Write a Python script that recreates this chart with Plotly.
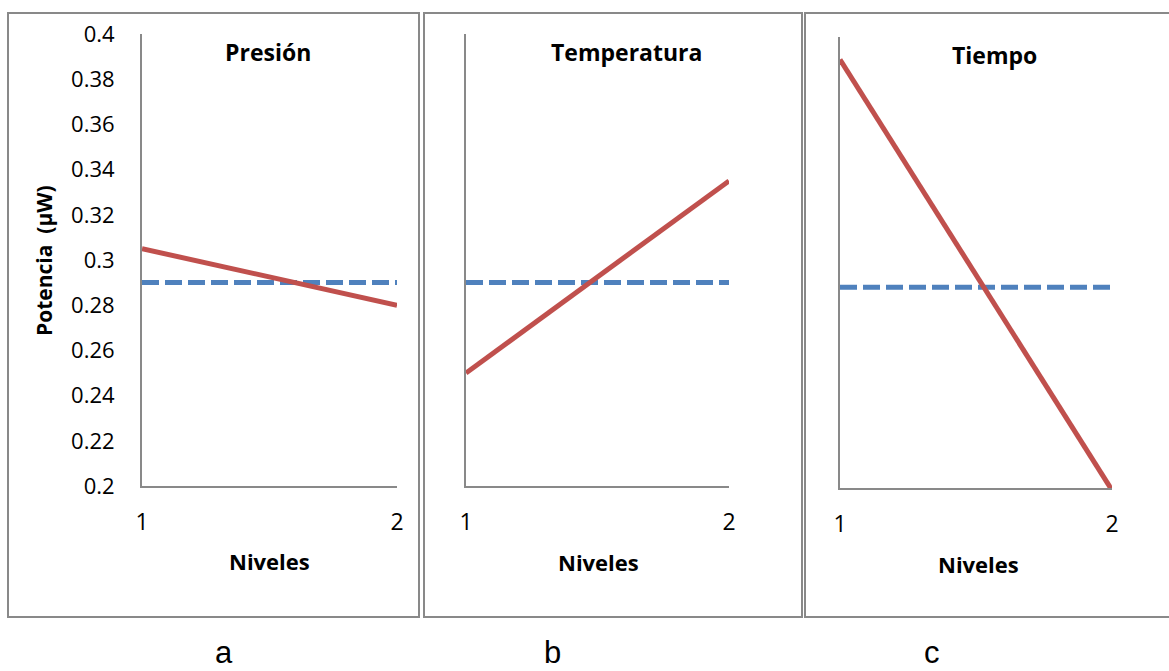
import plotly.graph_objects as go

# ---- data ----
niveles = [1, 2]
panel_titles = ["Presión", "Temperatura", "Tiempo"]
panel_letters = ["a", "b", "c"]
efecto_presion = [0.305, 0.280]
efecto_temperatura = [0.250, 0.335]
efecto_tiempo = [0.390, 0.199]
media_presion = [0.290, 0.290]
media_temperatura = [0.290, 0.290]
media_tiempo = [0.289, 0.289]
y_tick_vals = [0.2, 0.22, 0.24, 0.26, 0.28, 0.3, 0.32, 0.34, 0.36, 0.38, 0.4]
y_tick_text = ["0.2", "0.22", "0.24", "0.26", "0.28", "0.3", "0.32", "0.34", "0.36", "0.38", "0.4"]

W, H = 1169, 671
RED = "#C0504D"
BLUE = "#4F81BD"
GRAY = "#898989"
FONT = "Open Sans"

def px_x(p):
    return p / W

def px_y(p):
    return 1 - p / H

# plot areas in pixels: (x_left, x_right, y_top, y_bottom)
areas = [(142, 397, 34, 486), (466, 729, 34, 486), (840, 1112, 37, 488)]
# panel borders (x0, x1, y0, y1)
borders = [(8, 419, 13, 617), (424, 802, 13, 617), (805, 1175, 13, 617)]

efectos = [efecto_presion, efecto_temperatura, efecto_tiempo]
medias = [media_presion, media_temperatura, media_tiempo]

fig = go.Figure()
layout = dict(
    template="none",
    width=W, height=H, autosize=False,
    margin=dict(l=0, r=0, t=0, b=0, pad=0, autoexpand=False),
    paper_bgcolor="white", plot_bgcolor="white",
    showlegend=False,
    font=dict(family=FONT, color="black", size=22),
)

annotations = []
shapes = []
for i in range(3):
    sfx = "" if i == 0 else str(i + 1)
    xl, xr, yt, yb = areas[i]
    fig.add_trace(go.Scatter(
        x=niveles, y=medias[i], mode="lines",
        line=dict(color=BLUE, width=5, dash="17px,6px"),
        xaxis="x" + sfx, yaxis="y" + sfx, hoverinfo="skip"))
    fig.add_trace(go.Scatter(
        x=niveles, y=efectos[i], mode="lines",
        line=dict(color=RED, width=5),
        xaxis="x" + sfx, yaxis="y" + sfx, hoverinfo="skip"))
    layout["xaxis" + sfx] = dict(
        domain=[px_x(xl), px_x(xr)], range=[1, 2], automargin=False,
        anchor="y" + sfx, showgrid=False, zeroline=False,
        showline=True, linecolor=GRAY, linewidth=2,
        tickvals=niveles, ticktext=[str(v) for v in niveles],
        ticks="outside", ticklen=0, ticklabelstandoff=14,
        tickfont=dict(family=FONT, size=23, color="black"),
    )
    layout["yaxis" + sfx] = dict(
        domain=[px_y(yb), px_y(yt)], range=[0.2, 0.4], automargin=False,
        anchor="x" + sfx, showgrid=False, zeroline=False,
        showline=True, linecolor=GRAY, linewidth=2,
        tickvals=y_tick_vals, ticktext=y_tick_text,
        showticklabels=(i == 0),
        ticks="outside", ticklen=0, ticklabelstandoff=21,
        tickfont=dict(family=FONT, size=22, color="black"),
    )
    title_x = [268, 626, 994][i]
    title_y = [52, 52, 55][i]
    annotations.append(dict(
        text="<b>%s</b>" % panel_titles[i], x=px_x(title_x), y=px_y(title_y),
        xref="paper", yref="paper", showarrow=False,
        xanchor="center", yanchor="middle",
        font=dict(family=FONT, size=23, color="black")))
    niv_x = [269, 598, 978][i]
    niv_y = [561, 562, 564][i]
    annotations.append(dict(
        text="<b>Niveles</b>", x=px_x(niv_x), y=px_y(niv_y),
        xref="paper", yref="paper", showarrow=False,
        xanchor="center", yanchor="middle",
        font=dict(family=FONT, size=22, color="black")))
    let_x = [224, 552, 932][i]
    annotations.append(dict(
        text=panel_letters[i], x=px_x(let_x), y=px_y(652),
        xref="paper", yref="paper", showarrow=False,
        xanchor="center", yanchor="middle",
        font=dict(family="Liberation Sans", size=31, color="black")))
    bx0, bx1, by0, by1 = borders[i]
    shapes.append(dict(
        type="rect", xref="paper", yref="paper",
        x0=px_x(bx0), x1=px_x(bx1), y0=px_y(by1), y1=px_y(by0),
        line=dict(color=GRAY, width=2), fillcolor="rgba(0,0,0,0)", layer="below"))

annotations.append(dict(
    text="<b>Potencia\u00a0\u00a0(\u00b5W)</b>", x=px_x(44), y=px_y(261),
    xref="paper", yref="paper", showarrow=False, textangle=-90,
    xanchor="center", yanchor="middle",
    font=dict(family=FONT, size=21, color="black")))

layout["annotations"] = annotations
layout["shapes"] = shapes
fig.update_layout(**layout)
fig.write_html("out.html")
